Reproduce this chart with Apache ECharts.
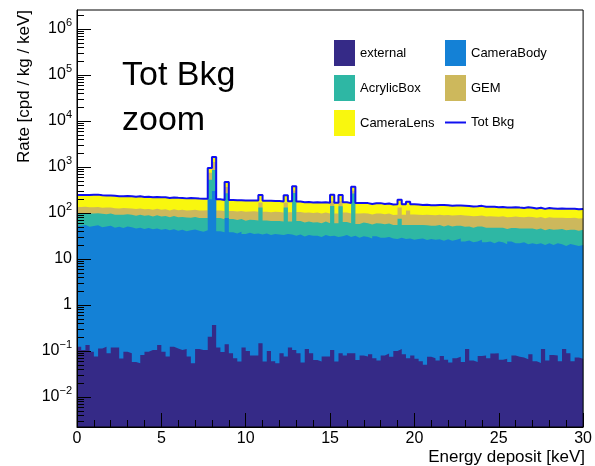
<!DOCTYPE html>
<html><head><meta charset="utf-8">
<script src="https://cdn.jsdelivr.net/npm/echarts@6/dist/echarts.min.js"></script>
<style>html,body{margin:0;padding:0;background:#fff}#c{width:595px;height:466px}</style>
</head><body><div id="c"></div>
<script>
const FONT = 'Liberation Sans, Arial, Helvetica, sans-serif';
const BIN_WIDTH = 0.25;
const X_MIN = 0, X_MAX = 30;
const Y_MIN = 0.00223, Y_MAX = 2.59e6;
const yDecades = [-3, -2, -1, 0, 1, 2, 3, 4, 5, 6];
const legendCol1 = ['external', 'AcrylicBox', 'CameraLens'];
const legendCol2 = ['CameraBody', 'GEM'];
const legendLine = ['Tot Bkg'];

// values per 0.25 keV bin (4 bins per keV row)
const external = [
 .124,.105,.135,.097, .076,.114,.124,.089, .12,.12,.069,.097, .089,.058,.054,.082,
 .097,.105,.105,.135, .097,.076,.124,.114, .105,.11,.076,.054, .11,.105,.105,.205,
 .37,.12,.095,.14, .089,.07,.059,.12, .10,.08,.08,.148, .059,.10,.06,.054,
 .089,.076,.12,.105, .089,.056,.11,.089, .064,.059,.076,.076, .105,.059,.089,.08,
 .089,.089,.064,.08, .076,.085,.07,.062, .08,.088,.075,.1, .11,.085,.07,.08,
 .068,.06,.05,.075, .07,.062,.078,.065, .056,.07,.075,.058, .11,.062,.058,.078,
 .08,.07,.088,.09, .065,.068,.058,.08, .075,.072,.066,.085, .06,.055,.11,.062,
 .082,.08,.06,.11, .09,.06,.072,.068];
const cameraBody = [
 53,55,50,52, 54,49,51,53, 48,50,47,51, 49,46,48,45, 47,44,46,43, 45,42,44,41,
 43,40,42,44, 41,39,42,200, 300,40,38,78, 38,36,39,35, 37,35,36,34, 36,33,35,34,
 33,35,34,32, 34,31,33,32, 32,30,33,31, 32,30,31,33, 30,32,29,31, 30,28,31,29,
 29,30,28,27, 29,27,28,26, 27,28,26,27, 26,27,25,27, 25,26,28,24, 25,23,24,26,
 23,24,22,24, 23,21,24,22, 22,23,21,22, 21,22,20,22, 20,22,21,19, 21,20,19,20];
const acrylicBox = [
 46,44,48,45, 45,47,43,44, 44,42,45,43, 43,41,44,42, 42,40,43,41, 41,39,42,40,
 39,40,37,38, 37,39,36,330, 560,38,35,192, 36,34,35,33, 34,35,33,97, 33,34,32,33,
 32,97,31,240, 33,31,32,30, 31,30,32,29, 110,30,110,31, 30,234,29,31, 30,28,29,30,
 28,29,27,28, 46,28,27,29, 28,27,28,26, 27,28,26,27, 26,27,25,26, 26,25,27,25,
 25,24,26,24, 25,24,23,25, 24,23,25,24, 23,24,22,23, 23,22,24,23, 22,23,22,23];
const gem = [
 36,38,35,37, 36,34,37,35, 35,34,36,33, 34,35,33,34, 33,34,35,33, 34,33,35,34,
 35,34,36,35, 36,35,37,220, 420,36,37,97, 37,38,36,38, 37,39,38,38, 38,37,39,38,
 38,37,39,38, 38,39,37,38, 39,37,38,38, 38,37,39,38, 37,38,39,37, 38,37,38,39,
 37,38,36,37, 57,37,59,38, 37,36,38,37, 36,37,38,36, 37,36,37,38, 36,37,35,37,
 36,37,36,35, 37,36,35,37, 36,35,37,36, 35,36,35,36, 36,35,34,36, 35,36,35,34];
const cameraLens = [
 110,108,112,114, 116,113,110,108, 109,106,104,107, 105,103,106,102, 103,101,99,102, 100,98,97,99,
 96,94,97,93, 92,90,88,200, 370,85,82,103, 80,82,79,81, 80,78,79,77, 78,80,76,77,
 75,74,76,72, 73,71,72,70, 70,72,69,70, 68,70,67,69, 67,66,68,65, 66,64,65,66,
 63,64,62,63, 62,63,61,62, 61,59,60,58, 59,58,60,57, 56,57,55,56, 55,53,54,55,
 53,51,52,50, 50,51,49,50, 49,48,50,48, 47,48,46,47, 47,45,46,45, 46,45,44,45];

const layers = [
  { name: 'external',   values: external,   color: '#352a87' },
  { name: 'CameraBody', values: cameraBody, color: '#1481d6' },
  { name: 'AcrylicBox', values: acrylicBox, color: '#2eb7a4' },
  { name: 'GEM',        values: gem,        color: '#cdb85c' },
  { name: 'CameraLens', values: cameraLens, color: '#f9f70e' }
];

// cumulative (stacked) tops
const cumulative = [];
let running = external.map(() => 0);
layers.forEach(l => {
  running = running.map((s, i) => s + l.values[i]);
  cumulative.push(running.slice());
});
const totBkg = cumulative[cumulative.length - 1];

function stepData(vals) {
  const d = vals.map((v, i) => [i * BIN_WIDTH, v]);
  d.push([vals.length * BIN_WIDTH, vals[vals.length - 1]]);
  return d;
}

const series = [];
// draw top-most cumulative first, lower layers painted over it (THStack style)
for (let k = layers.length - 1; k >= 0; k--) {
  const l = layers[k];
  series.push({
    name: l.name, type: 'line', step: 'end', symbol: 'none', showSymbol: false,
    color: l.color, itemStyle: { color: l.color },
    lineStyle: { width: 0, color: l.color },
    areaStyle: { color: l.color, opacity: 1, origin: 'start' },
    data: stepData(cumulative[k]), z: 2 + (layers.length - k), silent: true,
    emphasis: { disabled: true }, animation: false
  });
}
series.push({
  name: 'Tot Bkg', type: 'line', step: 'end', symbol: 'none', showSymbol: false,
  color: '#1010f0', itemStyle: { color: '#1010f0' },
  lineStyle: { width: 2, color: '#1010f0' },
  data: stepData(totBkg), z: 9, silent: true, emphasis: { disabled: true }
});

// y ticks (log minor ticks)
const yTicks = [];
yDecades.forEach(d => {
  for (let m = 1; m <= 9; m++) {
    const v = m * Math.pow(10, d);
    if (v > Y_MIN && v < Y_MAX) yTicks.push([X_MIN, v, m === 1 ? 1 : 0]);
  }
});
series.push({
  type: 'custom', silent: true, z: 10, data: yTicks,
  encode: { x: 0, y: 1 },
  renderItem: function (params, api) {
    const p = api.coord([api.value(0), api.value(1)]);
    const len = api.value(2) ? 14 : 7;
    const y = Math.round(p[1]) + 0.5;
    return { type: 'line', shape: { x1: p[0], y1: y, x2: p[0] + len, y2: y },
             style: { stroke: '#000', lineWidth: 1 } };
  }
});

const chart = echarts.init(document.getElementById('c'), null, { renderer: 'canvas' });
const legendBase = {
  orient: 'vertical', itemWidth: 21, itemHeight: 26, itemGap: 9, padding: 0,
  selectedMode: false, textStyle: { fontSize: 13, color: '#000', fontFamily: FONT }, top: 40
};
chart.setOption({
  animation: false,
  backgroundColor: '#fff',
  textStyle: { fontFamily: FONT },
  grid: { left: 77, top: 10, width: 508, height: 417, show: true, borderColor: '#000',
          borderWidth: 1, backgroundColor: 'transparent', containLabel: false, z: 20 },
  legend: [
    Object.assign({}, legendBase, { left: 334, data: legendCol1.map(n => ({ name: n, icon: 'rect' })) }),
    Object.assign({}, legendBase, { left: 445, data: legendCol2.map(n => ({ name: n, icon: 'rect' })) }),
    Object.assign({}, legendBase, { left: 445, top: 116, data: legendLine.map(n =>
      ({ name: n, icon: 'path://M0,0H21V2H0Z', itemStyle: { borderWidth: 0 } })) })
  ],
  xAxis: {
    type: 'value', min: X_MIN, max: X_MAX, interval: 5, z: 20,
    axisLine: { show: true, lineStyle: { color: '#000', width: 1 } },
    axisTick: { show: true, inside: true, length: 14, lineStyle: { color: '#000' } },
    minorTick: { show: true, splitNumber: 5, length: 7, lineStyle: { color: '#000' } },
    splitLine: { show: false },
    axisLabel: { margin: 4, fontSize: 16, color: '#000', fontFamily: FONT }
  },
  yAxis: {
    type: 'log', logBase: 10, min: Y_MIN, max: Y_MAX, z: 20,
    axisLine: { show: true, lineStyle: { color: '#000', width: 1 } },
    axisTick: { show: false }, splitLine: { show: false },
    axisLabel: {
      margin: 5, color: '#000', fontFamily: FONT,
      formatter: function (v) {
        const e = Math.log10(v), r = Math.round(e);
        if (Math.abs(e - r) > 1e-6) return '';
        if (r === 0) return '{b|1}';
        if (r === 1) return '{b|10}';
        return '{b|10}{s|' + (r < 0 ? '\u2212' + (-r) : r) + '}';
      },
      rich: {
        b: { fontSize: 16, lineHeight: 24, color: '#000', fontFamily: FONT },
        s: { fontSize: 11, lineHeight: 14, verticalAlign: 'top', color: '#000', fontFamily: FONT }
      }
    }
  },
  graphic: [
    { type: 'text', left: 122, top: 59, silent: true,
      style: { text: 'Tot Bkg', font: '34px ' + FONT, fill: '#000' } },
    { type: 'text', left: 122, top: 104, silent: true,
      style: { text: 'zoom', font: '34px ' + FONT, fill: '#000' } },
    { type: 'text', x: 24, y: 10, rotation: Math.PI / 2, silent: true,
      style: { text: 'Rate [cpd / kg / keV]', font: '17px ' + FONT, fill: '#000',
               align: 'right', verticalAlign: 'middle' } },
    { type: 'text', x: 585, y: 457, silent: true,
      style: { text: 'Energy deposit [keV]', font: '17px ' + FONT, fill: '#000',
               align: 'right', verticalAlign: 'middle' } }
  ],
  series: series
});
</script></body></html>
